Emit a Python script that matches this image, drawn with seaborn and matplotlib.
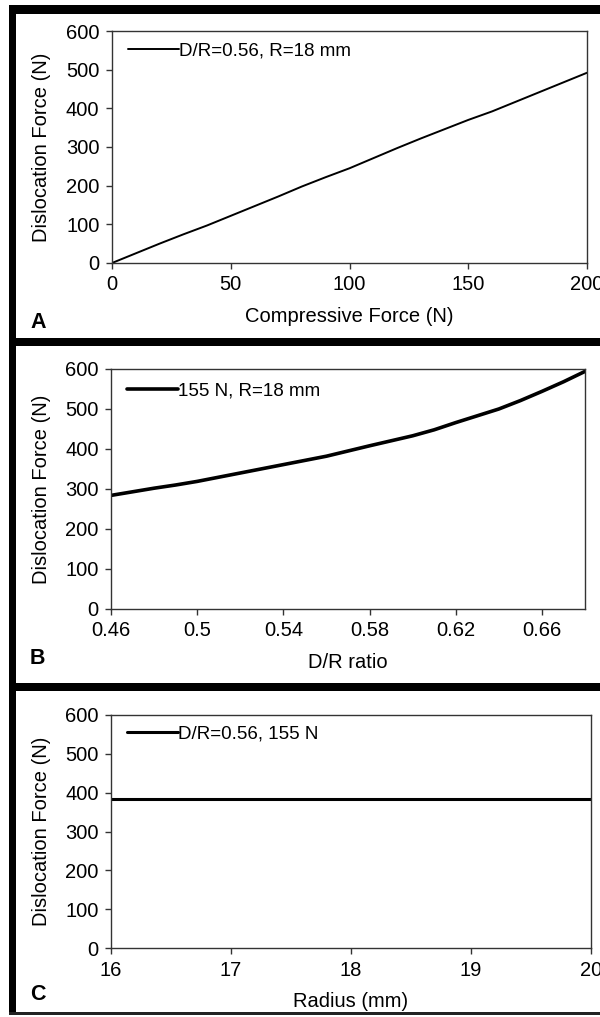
import numpy as np
import pandas as pd
import seaborn as sns
import matplotlib.pyplot as plt
from matplotlib.patches import Rectangle

# panel A: dislocation force vs compressive force
comp_force = [0, 10, 20, 30, 40, 50, 60, 70, 80, 90, 100, 110, 120, 130, 140, 150, 160, 170, 180, 190, 200]
disl_a = [0, 25, 50, 74, 97, 122, 147, 172, 198, 222, 245, 271, 297, 322, 346, 370, 392, 417, 442, 467, 492]
label_a = 'D/R=0.56, R=18 mm'

# panel B: dislocation force vs D/R ratio
dr_ratio = [0.46, 0.47, 0.48, 0.49, 0.50, 0.52, 0.54, 0.56, 0.58, 0.60, 0.61, 0.62, 0.63, 0.64, 0.65, 0.66, 0.67, 0.68]
disl_b = [284, 293, 302, 310, 319, 340, 361, 382, 408, 433, 448, 466, 483, 500, 521, 544, 568, 594]
label_b = '155 N, R=18 mm'
ticks_b = [0.46, 0.5, 0.54, 0.58, 0.62, 0.66]
ticklabels_b = ['0.46', '0.5', '0.54', '0.58', '0.62', '0.66']

# panel C: dislocation force vs radius
radius = [16, 17, 18, 19, 20]
disl_c = [383, 383, 383, 383, 383]
label_c = 'D/R=0.56, 155 N'

sns.set_style('ticks')
plt.rcParams['font.family'] = ['Liberation Sans', 'DejaVu Sans']
plt.rcParams['text.color'] = 'black'
plt.rcParams['axes.labelcolor'] = 'black'

W, H = 600, 1017
fig = plt.figure(figsize=(6, 10.17), dpi=100)


def box(l, r, t, b):
    return [l / W, 1 - b / H, (r - l) / W, (b - t) / H]


def rect(x0, x1, y0, y1, color='black'):
    fig.add_artist(Rectangle((x0 / W, 1 - y1 / H), (x1 - x0) / W, (y1 - y0) / H,
                             transform=fig.transFigure, color=color, lw=0))


# panel frames
rect(9, 600, 5, 14)
rect(9, 16, 5, 1015)
rect(9, 600, 338, 346)
rect(9, 600, 683, 691)
rect(9, 600, 1012, 1015, color='#222222')

panels = [
    dict(pos=box(112, 587, 31, 263), x=comp_force, y=disl_a, label=label_a, lw=1.4,
         xlim=(0, 200), xticks=[0, 50, 100, 150, 200], xtl=None,
         xlabel='Compressive Force (N)', letter='A', ly=322, leg_y=51),
    dict(pos=box(111, 585, 369, 609), x=dr_ratio, y=disl_b, label=label_b, lw=2.6,
         xlim=(0.46, 0.68), xticks=ticks_b, xtl=ticklabels_b,
         xlabel='D/R ratio', letter='B', ly=658, leg_y=391),
    dict(pos=box(111, 591, 715, 948), x=radius, y=disl_c, label=label_c, lw=2.2,
         xlim=(16, 20), xticks=[16, 17, 18, 19, 20], xtl=None,
         xlabel='Radius (mm)', letter='C', ly=995, leg_y=734),
]

for p in panels:
    ax = fig.add_axes(p['pos'])
    df = pd.DataFrame({'x': p['x'], 'y': p['y']})
    sns.lineplot(data=df, x='x', y='y', ax=ax, color='black', lw=p['lw'], label=p['label'])
    ax.set_xlim(*p['xlim'])
    ax.set_ylim(0, 600)
    ax.set_yticks(np.arange(0, 601, 100))
    ax.set_xticks(p['xticks'])
    if p['xtl'] is not None:
        ax.set_xticklabels(p['xtl'])
    for s in ax.spines.values():
        s.set_color('#333333')
        s.set_linewidth(1.0)
        s.set_visible(True)
    ax.tick_params(direction='out', length=4, width=1, color='#333333', pad=5,
                   labelsize=14.5, labelcolor='black')
    ax.set_ylabel('Dislocation Force (N)', fontsize=14.5)
    ax.set_xlabel(p['xlabel'], fontsize=14.5)
    bbox = ax.get_position()
    ax_h_px = bbox.height * H
    ax_w_px = bbox.width * W
    ax.yaxis.set_label_coords((51 - bbox.x0 * W) / ax_w_px, 0.5)
    ax.xaxis.set_label_coords(0.5, -(44 / ax_h_px))
    top_px = (1 - bbox.y1) * H
    leg = ax.legend(loc='center left', frameon=False, fontsize=13.5,
                    handlelength=2.7, handletextpad=0.0, borderpad=0, borderaxespad=0,
                    bbox_to_anchor=(16 / ax_w_px, 1 - (p['leg_y'] - top_px) / ax_h_px))
    fig.text(30 / W, 1 - p['ly'] / H, p['letter'], fontsize=15.5, fontweight='bold',
             ha='left', va='center')

fig.savefig('out.png', dpi=100, facecolor='white')
